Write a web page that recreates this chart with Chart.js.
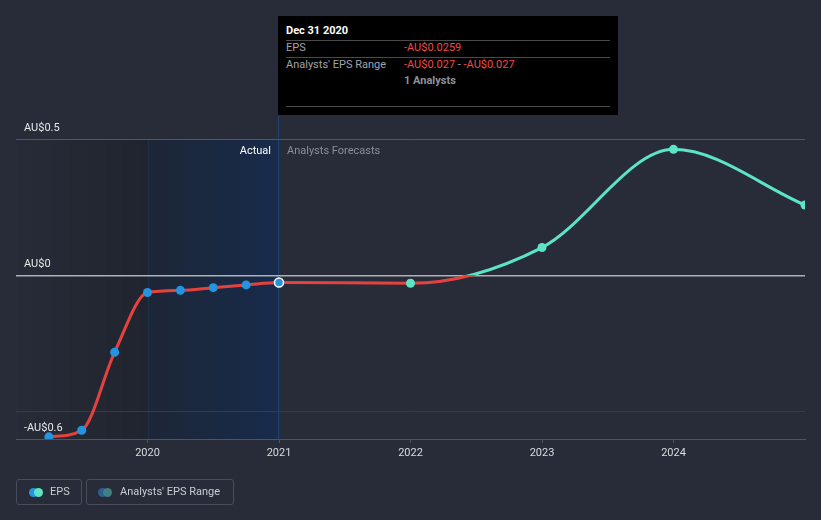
<!DOCTYPE html>
<html>
<head>
<meta charset="utf-8">
<script src="https://cdn.jsdelivr.net/npm/chart.js@4.4.1/dist/chart.umd.min.js"></script>
<style>
  html, body { margin:0; padding:0; background:#272c38; }
  #wrap { position:relative; width:821px; height:520px; background:#272c38; font-family:Roboto, "Open Sans", sans-serif; }
  canvas { position:absolute; left:0; top:0; }
  #tip { position:absolute; top:16px; width:340px; height:99px; background:#000; font-size:11px; color:#a0a4aa; }
  #tip .r { position:absolute; line-height:14px; white-space:nowrap; }
  #tip .hr { position:absolute; left:8px; right:8px; height:1px; background:#4a4a4a; }
  .leg { position:absolute; top:479px; height:26px; border:1px solid #474d5a; border-radius:3px; box-sizing:border-box; font-size:11px; color:#c9ccd1; }
  .leg .dot { position:absolute; top:8px; width:9px; height:9px; border-radius:50%; }
  .leg .t { position:absolute; top:0; line-height:24px; white-space:nowrap; }
</style>
</head>
<body>
<div id="wrap">
  <canvas id="c" width="821" height="520"></canvas>
  <div id="tip">
    <div class="r" style="left:8px;top:8px;color:#fff;font-weight:bold;">Dec 31 2020</div>
    <div class="hr" style="top:24px;"></div>
    <div class="r" style="left:8px;top:25px;">EPS</div>
    <div class="r" style="left:126px;top:25px;color:#ef4a4a;">-AU$0.0259</div>
    <div class="hr" style="top:41px;"></div>
    <div class="r" style="left:8px;top:42px;">Analysts' EPS Range</div>
    <div class="r" style="left:126px;top:42px;color:#ef4a4a;">-AU$0.027 <span style="color:#a0a4aa">-</span> -AU$0.027</div>
    <div class="r" style="left:126px;top:58px;font-weight:bold;color:#8e9298;">1 Analysts</div>
    <div class="hr" style="top:90px;"></div>
  </div>
  <div class="leg" style="left:16px;width:66px;">
    <div class="dot" style="left:12px;background:#2394df;"></div>
    <div class="dot" style="left:17px;background:#5de4c7;"></div>
    <div class="t" style="left:33px;">EPS</div>
  </div>
  <div class="leg" style="left:86px;width:148px;">
    <div class="dot" style="left:11px;background:#2b5f8e;"></div>
    <div class="dot" style="left:16px;background:#3f8082;"></div>
    <div class="t" style="left:33px;">Analysts' EPS Range</div>
  </div>
</div>
<script>
// ---- data ----
const actualDates = [2019.25, 2019.5, 2019.75, 2020.0, 2020.25, 2020.5, 2020.75, 2021.0];
const actualEps   = [-0.592, -0.568, -0.282, -0.063, -0.055, -0.045, -0.035, -0.0259];
const forecastDates = [2022.0, 2023.0, 2024.0, 2025.0];
const forecastEps   = [-0.029, 0.102, 0.462, 0.258];
const xTickValues = [2020, 2021, 2022, 2023, 2024];
const xTickLabels = ['2020', '2021', '2022', '2023', '2024'];
const yTickValues = [-0.6, -0.5, 0, 0.5];
const yTickLabels = ['-AU$0.6', '', 'AU$0', 'AU$0.5'];
const xMin = 2019.0, xMax = 2025.0, yMin = -0.6, yMax = 0.5;
const pastStart = 2019.0, highlightStart = 2020.0, nowDate = 2021.0;

const RED = '#e5423f', CYAN = '#5de4c7', BLUE = '#2394df';

const points = actualDates.map((d, i) => ({x: d, y: actualEps[i]}))
  .concat(forecastDates.map((d, i) => ({x: d, y: forecastEps[i]})));
const pointColors = actualDates.map(() => BLUE).concat(forecastDates.map(() => CYAN));
const pointBorderColors = points.map((p, i) => i === actualDates.length - 1 ? '#ffffff' : pointColors[i]);
const pointBorderWidths = points.map((p, i) => i === actualDates.length - 1 ? 1.5 : 0);
const pointRadii = points.map((p, i) => i === actualDates.length - 1 ? 4.5 : 4.5);

Chart.defaults.font.family = 'Roboto, "Open Sans", sans-serif';
Chart.defaults.font.size = 11;

const regionPlugin = {
  id: 'regions',
  beforeDraw(chart) {
    const {ctx, chartArea: a, scales: {x}} = chart;
    const x0 = x.getPixelForValue(pastStart), x1 = x.getPixelForValue(highlightStart), x2 = x.getPixelForValue(nowDate);
    ctx.save();
    let g = ctx.createLinearGradient(x0, 0, x1, 0);
    g.addColorStop(0, 'rgba(0,0,0,0)');
    g.addColorStop(1, 'rgba(0,0,0,0.17)');
    ctx.fillStyle = g;
    ctx.fillRect(x0, a.top, x1 - x0, a.bottom - a.top);
    g = ctx.createLinearGradient(x1, 0, x2, 0);
    g.addColorStop(0, '#1d2636');
    g.addColorStop(1, '#172b4b');
    ctx.fillStyle = g;
    ctx.fillRect(x1, a.top, x2 - x1, a.bottom - a.top);
    ctx.fillStyle = 'rgba(45,75,125,0.25)';
    ctx.fillRect(Math.round(x1), a.top, 1, a.bottom - a.top);
    ctx.fillStyle = '#1e4272';
    ctx.fillRect(Math.round(x2) - 1, 115, 1, a.bottom - 115);
    ctx.font = '11px Roboto, sans-serif';
    ctx.textBaseline = 'middle';
    ctx.textAlign = 'right';
    ctx.fillStyle = '#ffffff';
    ctx.fillText('Actual', x2 - 8, a.top + 12);
    ctx.textAlign = 'left';
    ctx.fillStyle = '#8a8f98';
    ctx.fillText('Analysts Forecasts', x2 + 8, a.top + 12);
    ctx.restore();
    const tip = document.getElementById('tip');
    tip.style.left = (Math.round(x2) - 1) + 'px';
  }
};

new Chart(document.getElementById('c'), {
  type: 'line',
  data: {
    datasets: [{
      label: 'EPS',
      data: points,
      borderWidth: 3,
      cubicInterpolationMode: 'monotone',
      borderColor(ctx) {
        const chart = ctx.chart;
        const a = chart.chartArea;
        if (!a) return RED;
        const zero = chart.scales.y.getPixelForValue(0);
        const t = Math.min(1, Math.max(0, (zero - a.top) / (a.bottom - a.top)));
        const g = chart.ctx.createLinearGradient(0, a.top, 0, a.bottom);
        g.addColorStop(0, CYAN);
        g.addColorStop(t, CYAN);
        g.addColorStop(t, RED);
        g.addColorStop(1, RED);
        return g;
      },
      pointBackgroundColor: pointColors,
      pointBorderColor: pointBorderColors,
      pointBorderWidth: pointBorderWidths,
      pointRadius: pointRadii,
      fill: false
    }]
  },
  options: {
    responsive: false,
    devicePixelRatio: 1,
    animation: false,
    events: [],
    layout: { padding: { left: 16, right: 16, top: 139, bottom: 50 } },
    plugins: { legend: { display: false }, tooltip: { enabled: false } },
    scales: {
      x: {
        type: 'linear',
        min: xMin, max: xMax,
        afterBuildTicks(s) { s.ticks = xTickValues.map(v => ({value: v})); },
        afterFit(s) { s.height = 31; },
        ticks: {
          color: '#d9dbde',
          padding: 4,
          maxRotation: 0,
          callback(v) { const i = xTickValues.indexOf(v); return i >= 0 ? xTickLabels[i] : ''; }
        },
        grid: { display: true, drawOnChartArea: false, drawTicks: true, tickLength: 4, color: '#4f5560' },
        border: { display: true, color: '#4f5560' }
      },
      y: {
        type: 'linear',
        min: yMin, max: yMax,
        afterBuildTicks(s) { s.ticks = yTickValues.map(v => ({value: v})); },
        afterFit(s) { s.width = 0; },
        ticks: {
          mirror: true,
          padding: 8,
          labelOffset: -11,
          color: '#e6e7e9',
          callback(v) { const i = yTickValues.indexOf(v); return i >= 0 ? yTickLabels[i] : ''; }
        },
        grid: {
          drawTicks: false,
          color(c) {
            const v = c.tick && c.tick.value;
            if (v === 0) return '#aeb0b4';
            if (v === 0.5) return '#51565f';
            if (v === -0.6) return '#4f5560';
            return '#363b46';
          },
          lineWidth(c) { return c.tick && c.tick.value === 0 ? 1.5 : 1; }
        },
        border: { display: false }
      }
    }
  },
  plugins: [regionPlugin]
});
</script>
</body>
</html>
